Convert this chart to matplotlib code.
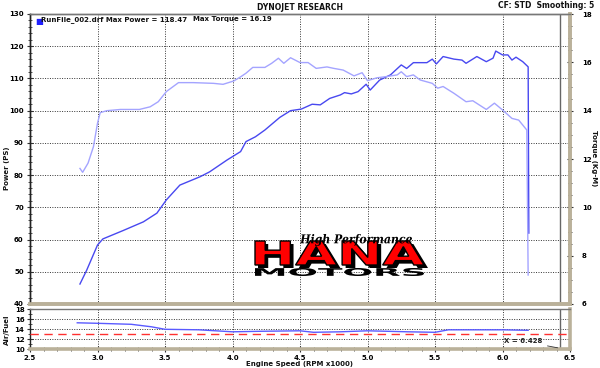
import matplotlib
matplotlib.use("Agg")
import matplotlib.pyplot as plt
from matplotlib.textpath import TextPath
from matplotlib.patches import PathPatch
from matplotlib.font_manager import FontProperties
from matplotlib.transforms import Affine2D, IdentityTransform

# ---------------- data ----------------
power_rpm = [2.87, 2.92, 3.0, 3.04, 3.19, 3.34, 3.44, 3.51, 3.61, 3.76, 3.83, 3.96,
             4.06, 4.1, 4.17, 4.24, 4.35, 4.43, 4.51, 4.59, 4.65, 4.72, 4.8, 4.83,
             4.88, 4.93, 4.99, 5.02, 5.09, 5.17, 5.25, 5.29, 5.34, 5.44, 5.48, 5.51,
             5.56, 5.64, 5.7, 5.73, 5.81, 5.88, 5.93, 5.95, 6.0, 6.04, 6.07, 6.1,
             6.15, 6.19, 6.195]
power_ps = [46.2, 50.5, 58.3, 60.2, 62.8, 65.5, 68.2, 72.3, 76.9, 79.5, 81.0, 84.7,
            87.3, 90.4, 91.9, 94.0, 97.9, 100.0, 100.5, 102.0, 101.8, 103.8, 104.9, 105.6,
            105.2, 105.9, 108.2, 106.4, 109.5, 111.1, 114.2, 113.1, 114.9, 114.9, 116.0, 114.5,
            116.8, 116.0, 115.7, 114.7, 116.8, 115.2, 116.3, 118.5, 117.3, 117.3, 115.7, 116.6,
            115.2, 113.6, 62.0]

torque_rpm = [2.87, 2.89, 2.93, 2.97, 3.0, 3.02, 3.07, 3.17, 3.31, 3.39, 3.45, 3.51,
              3.6, 3.71, 3.86, 3.93, 4.01, 4.06, 4.1, 4.15, 4.24, 4.29, 4.34, 4.38,
              4.43, 4.5, 4.56, 4.62, 4.7, 4.75, 4.82, 4.9, 4.96, 5.0, 5.07, 5.14,
              5.22, 5.25, 5.29, 5.34, 5.39, 5.48, 5.52, 5.56, 5.64, 5.73, 5.78, 5.88,
              5.94, 6.0, 6.07, 6.12, 6.18, 6.19]
torque_kgm = [11.61, 11.45, 11.83, 12.51, 13.48, 13.92, 14.0, 14.05, 14.05, 14.16, 14.37, 14.79,
              15.16, 15.16, 15.13, 15.09, 15.23, 15.4, 15.55, 15.79, 15.79, 15.96, 16.17, 15.96,
              16.19, 15.99, 15.99, 15.75, 15.81, 15.75, 15.68, 15.44, 15.57, 15.24, 15.36, 15.41,
              15.48, 15.61, 15.41, 15.48, 15.27, 15.13, 14.93, 15.0, 14.72, 14.37, 14.41, 14.05,
              14.31, 14.03, 13.68, 13.61, 13.2, 7.2]

afr_rpm = [2.85, 3.0, 3.25, 3.4, 3.5, 3.75, 4.0, 4.2, 4.5, 4.6, 4.8, 5.0, 5.3, 5.5,
           5.6, 5.9, 6.0, 6.19]
afr = [15.3, 15.2, 15.0, 14.5, 14.0, 13.9, 13.5, 13.6, 13.7, 13.4, 13.5, 13.7, 13.5, 13.4,
       13.9, 13.9, 13.9, 13.8]
afr_target = 13.1

x_ticks = [2.5, 3.0, 3.5, 4.0, 4.5, 5.0, 5.5, 6.0, 6.5]
x_ticklabels = ["2.5", "3.0", "3.5", "4.0", "4.5", "5.0", "5.5", "6.0", "6.5"]
power_ticks = [40, 50, 60, 70, 80, 90, 100, 110, 120, 130]
torque_ticks = [6, 8, 10, 12, 14, 16, 18]
afr_ticks = [10, 12, 14, 16, 18]
cursor_x = 6.428
max_power = 118.47
max_torque = 16.19

# ---------------- style ----------------
W, H = 600, 368
FS = 5
BAND = "#bab19a"
GRID = dict(color="#333333", linestyle=(0, (1, 1.5)), linewidth=0.7)
PCOL = "#4848f0"
TCOL = "#a4a4ff"

plt.rcParams["font.family"] = ["DejaVu Sans"]
plt.rcParams["font.weight"] = "bold"

fig = plt.figure(figsize=(W / 100, H / 100), dpi=100)
fig.patch.set_facecolor("white")

def fx(px):
    return px / W

def fy(py):
    return 1 - py / H

ax = fig.add_axes([fx(30), fy(304), fx(540), 290 / H])
axf = fig.add_axes([fx(30), fy(349.3), fx(540), 40 / H])
ax2 = ax.twinx()

def style_axes(a):
    a.set_facecolor("none")
    a.spines["left"].set_color("#222222")
    a.spines["left"].set_linewidth(1.0)
    a.spines["top"].set_color("#777777")
    a.spines["top"].set_linewidth(1.0)
    a.spines["right"].set_color(BAND)
    a.spines["right"].set_linewidth(2.6)
    a.spines["bottom"].set_color(BAND)
    a.spines["bottom"].set_linewidth(2.6)

# main panel
ax.set_xlim(2.5, 6.5)
ax.set_ylim(40, 130)
ax2.set_ylim(6, 18)
style_axes(ax)
style_axes(ax2)
ax.set_xticks(x_ticks[1:-1])
ax.tick_params(axis="x", length=0, labelbottom=False)
ax.set_yticks(power_ticks)
ax.set_yticks([v for v in range(40, 131, 2)], minor=True)
ax.tick_params(axis="y", which="major", direction="inout", length=5, width=0.8,
               color="#333333", labelsize=FS, pad=2)
ax.tick_params(axis="y", which="minor", direction="inout", length=3, width=0.6,
               color="#333333")
for lab in ax.get_yticklabels():
    lab.set_fontweight("bold")
ax.grid(True, axis="both", which="major", **GRID)
ax.set_axisbelow(True)

ax2.set_yticks(torque_ticks)
ax2.set_yticks([v / 2 for v in range(12, 37)], minor=True)
ax2.tick_params(axis="y", which="major", direction="inout", length=5, width=0.8,
                color="#333333", labelsize=FS, pad=6)
ax2.tick_params(axis="y", which="minor", direction="inout", length=3, width=0.6,
                color="#333333")
ax2.set_yticklabels([str(t) for t in torque_ticks])
for lab in ax2.get_yticklabels():
    lab.set_fontweight("bold")

# curves (torque on its own axis)
ax2.plot(torque_rpm, torque_kgm, color=TCOL, lw=1.0, zorder=3)
ax.plot(power_rpm, power_ps, color=PCOL, lw=1.0, zorder=4)
ax.axvline(cursor_x, color="#666666", lw=1.0, zorder=2)

# AFR panel
axf.set_xlim(2.5, 6.5)
axf.set_ylim(10, 18)
style_axes(axf)
axf.set_xticks(x_ticks)
axf.set_xticklabels(x_ticklabels)
axf.set_xticks([2.5 + i * 0.1 for i in range(41)], minor=True)
axf.tick_params(axis="x", which="major", direction="inout", length=4, width=0.8,
                color="#333333", labelsize=FS, pad=2)
axf.tick_params(axis="x", which="minor", direction="inout", length=3, width=0.6,
                color="#333333")
axf.set_yticks(afr_ticks)
axf.set_yticks([v for v in range(10, 19)], minor=True)
axf.tick_params(axis="y", which="major", direction="inout", length=4, width=0.8,
                color="#333333", labelsize=FS, pad=2)
axf.tick_params(axis="y", which="minor", direction="inout", length=2.5, width=0.6,
                color="#333333")
for lab in axf.get_xticklabels() + axf.get_yticklabels():
    lab.set_fontweight("bold")
axf.grid(True, axis="both", which="major", **GRID)
axf.set_axisbelow(True)
axf.axhline(afr_target, color="#ff3030", lw=1.0, dashes=(6, 4), zorder=3)
axf.plot(afr_rpm, afr, color="#5a5aff", lw=1.0, zorder=4)
axf.axvline(cursor_x, color="#666666", lw=1.0, zorder=2)
axf.annotate("X = %.3f" % cursor_x, xy=(cursor_x, 10.2), xytext=(6.15, 11.6),
             fontsize=FS, fontweight="bold", color="#222222", ha="center", va="center",
             arrowprops=dict(arrowstyle="-", color="#333333", lw=0.6))

# texts
fig.text(0.5, fy(7), "DYNOJET RESEARCH", ha="center", va="center",
         fontsize=5.5, fontweight="bold", color="#111111")
fig.text(fx(594), fy(6), "CF: STD  Smoothing: 5", ha="right", va="center",
         fontsize=5.5, fontweight="bold", color="#111111")
fig.text(fx(7), fy(168), "Power (PS)", rotation=90, ha="center", va="center",
         fontsize=FS, fontweight="bold", color="#111111")
fig.text(fx(594), fy(158), "Torque (Kg-M)", rotation=270, ha="center", va="center",
         fontsize=FS, fontweight="bold", color="#111111")
fig.text(fx(7), fy(330), "Air/Fuel", rotation=90, ha="center", va="center",
         fontsize=FS, fontweight="bold", color="#111111")
fig.text(0.5, fy(364), "Engine Speed (RPM x1000)", ha="center", va="center",
         fontsize=FS, fontweight="bold", color="#111111")

# legend line
ax.text(0.009, 0.988, "\u25A0", transform=ax.transAxes, fontsize=6, color="#2020ff",
        ha="left", va="top")
ax.text(0.021, 0.992, "RunFile_002.drf Max Power = %.2f" % max_power,
        transform=ax.transAxes, fontsize=5, fontweight="bold", ha="left", va="top",
        color="#111111")
ax.text(0.302, 0.992, "Max Torque = %.2f" % max_torque,
        transform=ax.transAxes, fontsize=5, fontweight="bold", ha="left", va="top",
        color="#111111")

# logo (text fitted into pixel boxes)
def fitted_text(s, x0, y0, x1, y1, face, edge="none", lw=0, prop=None, z=10):
    tp = TextPath((0, 0), s, size=10, prop=prop)
    ext = tp.get_extents()
    sx = (x1 - x0) / ext.width
    sy = (y1 - y0) / ext.height
    tr = Affine2D().translate(-ext.x0, -ext.y0).scale(sx, sy).translate(x0, H - y1)
    path = tr.transform_path(tp)
    patch = PathPatch(path, facecolor=face, edgecolor=edge, lw=lw,
                      transform=IdentityTransform(), zorder=z)
    fig.add_artist(patch)

heavy = FontProperties(family="DejaVu Sans", weight="bold")
script = FontProperties(family="DejaVu Serif", style="italic")
fitted_text("HANA", 258, 244, 428, 268, "black", prop=heavy, z=9)
fitted_text("HANA", 255, 241, 424, 265, "#ff0000", edge="black", lw=1.0, prop=heavy, z=10)
fitted_text("MOTORS", 255, 268, 424, 276, "black", prop=heavy, z=10)
fitted_text("High Performance", 300, 234, 412, 246, "black", prop=script, z=11)

fig.savefig("out.png", dpi=100, facecolor="white")
